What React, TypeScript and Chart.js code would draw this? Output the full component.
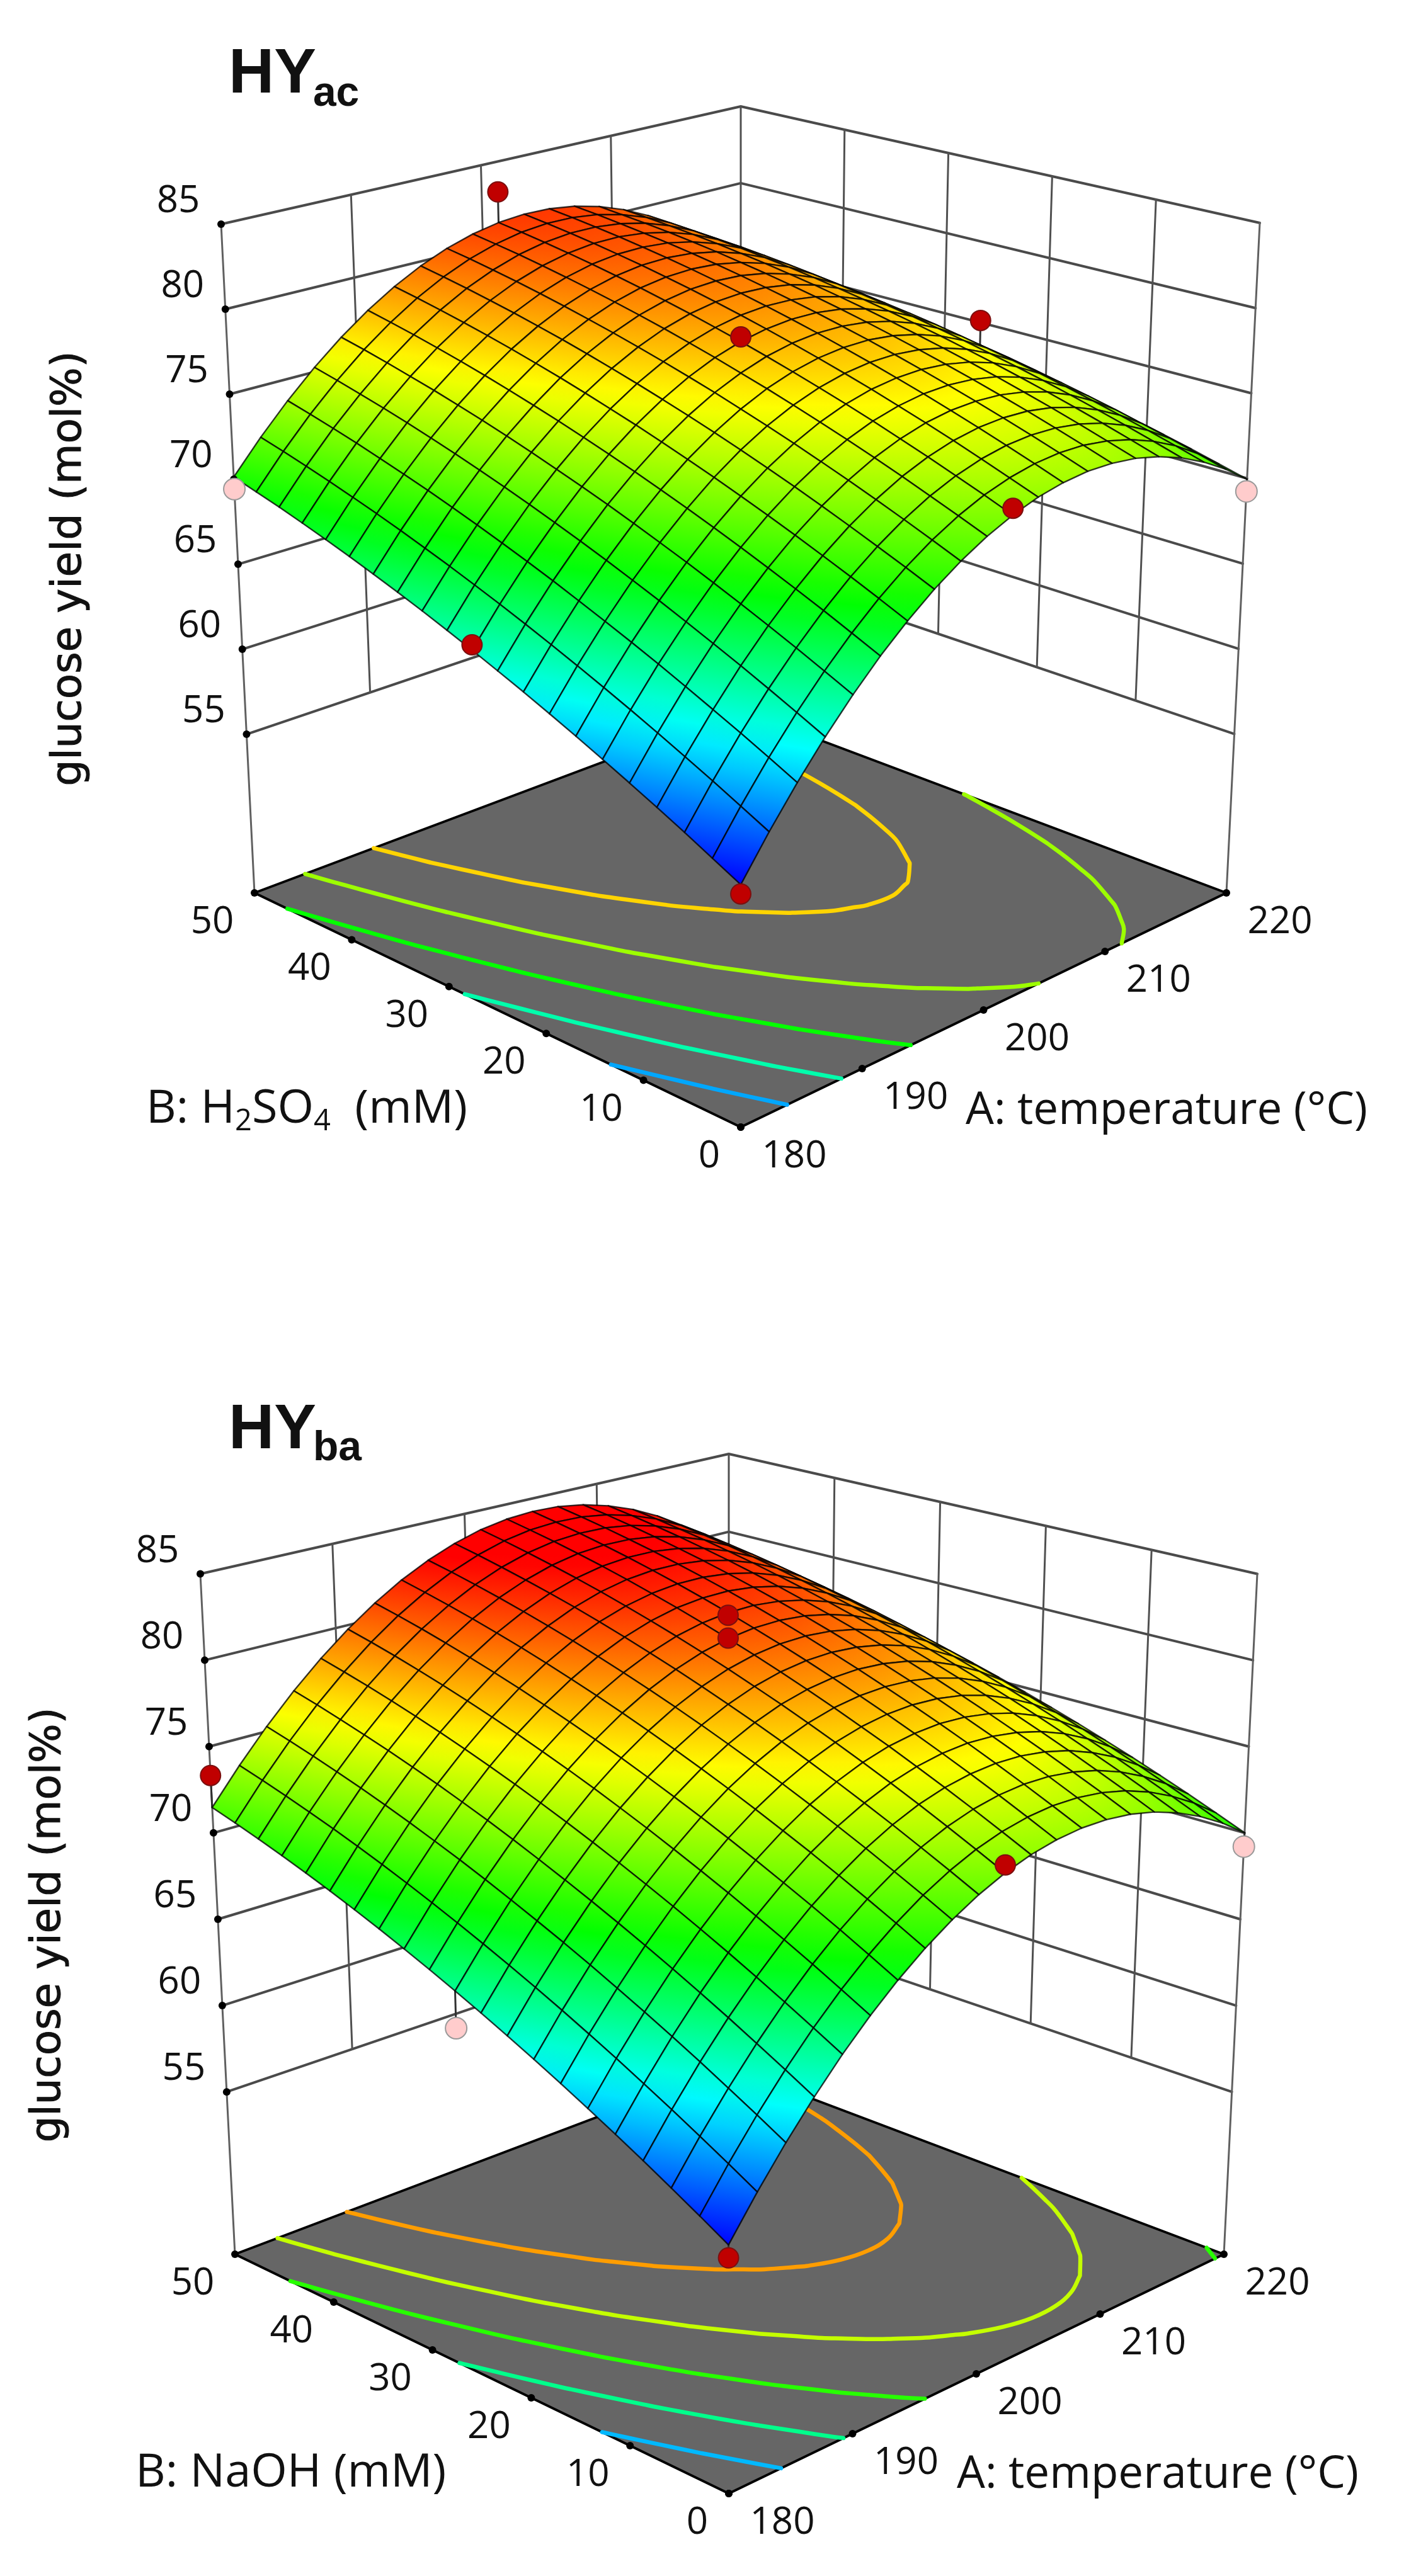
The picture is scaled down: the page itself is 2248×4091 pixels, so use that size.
import React, { useEffect, useRef } from "react";
import { Chart, registerables } from "chart.js";
Chart.register(...registerables);

const zTicks = [55, 60, 65, 70, 75, 80, 85];
const tempTicks = [180, 190, 200, 210, 220];
const concTicks = [0, 10, 20, 30, 40, 50];
const acLevels = [62.6, 66.3, 70.1, 74, 77.6];
const baLevels = [63, 67, 71, 75, 79];

// glucose yield (mol%), one row per 2.5 mM of acid, one column per 2 °C (180 to 220)
const acYield = [
  [59.00,61.20,63.22,65.08,66.76,68.28,69.62,70.80,71.80,72.64,73.30,73.80,74.12,74.28,74.26,74.08,73.72,73.20,72.50,71.64,70.60],
  [59.78,61.96,63.97,65.81,67.47,68.97,70.30,71.46,72.44,73.26,73.91,74.38,74.69,74.83,74.80,74.59,74.22,73.68,72.97,72.08,71.03],
  [60.55,62.71,64.70,66.52,68.17,69.65,70.96,72.09,73.06,73.86,74.49,74.95,75.24,75.36,75.31,75.09,74.70,74.14,73.41,72.51,71.44],
  [61.29,63.43,65.40,67.21,68.84,70.30,71.59,72.71,73.66,74.45,75.06,75.50,75.77,75.87,75.81,75.57,75.16,74.58,73.83,72.91,71.83],
  [62.01,64.14,66.09,67.87,69.49,70.93,72.21,73.31,74.24,75.01,75.60,76.03,76.28,76.36,76.28,76.02,75.60,75.00,74.23,73.30,72.19],
  [62.71,64.82,66.76,68.52,70.12,71.54,72.80,73.89,74.80,75.55,76.13,76.53,76.77,76.83,76.73,76.46,76.01,75.40,74.62,73.66,72.54],
  [63.39,65.48,67.40,69.15,70.73,72.13,73.37,74.44,75.34,76.07,76.63,77.02,77.23,77.28,77.16,76.87,76.41,75.78,74.98,74.00,72.86],
  [64.05,66.12,68.02,69.75,71.31,72.70,73.93,74.98,75.86,76.57,77.11,77.48,77.68,77.71,77.57,77.26,76.78,76.13,75.31,74.32,73.17],
  [64.69,66.74,68.62,70.34,71.88,73.25,74.46,75.49,76.35,77.05,77.57,77.92,78.10,78.12,77.96,77.63,77.14,76.47,75.63,74.63,73.45],
  [65.30,67.34,69.21,70.90,72.43,73.78,74.97,75.98,76.83,77.50,78.01,78.34,78.51,78.50,78.33,77.98,77.47,76.78,75.93,74.90,73.71],
  [65.90,67.92,69.77,71.44,72.95,74.29,75.46,76.45,77.28,77.94,78.43,78.74,78.89,78.87,78.68,78.31,77.78,77.08,76.21,75.16,73.95],
  [66.47,68.47,70.30,71.96,73.45,74.77,75.92,76.90,77.71,78.35,78.82,79.12,79.25,79.21,79.00,78.62,78.07,77.35,76.46,75.40,74.17],
  [67.03,69.01,70.82,72.46,73.94,75.24,76.37,77.33,78.12,78.75,79.20,79.48,79.59,79.53,79.31,78.91,78.34,77.60,76.69,75.62,74.37],
  [67.56,69.52,71.32,72.94,74.40,75.68,76.80,77.74,78.51,79.12,79.55,79.82,79.91,79.84,79.59,79.17,78.59,77.83,76.91,75.81,74.55],
  [68.07,70.02,71.80,73.40,74.84,76.10,77.20,78.13,78.88,79.47,79.89,80.13,80.21,80.12,79.85,79.42,78.82,78.04,77.10,75.99,74.70],
  [68.56,70.49,72.25,73.84,75.26,76.51,77.59,78.49,79.23,79.80,80.20,80.43,80.49,80.38,80.10,79.64,79.02,78.23,77.27,76.14,74.84],
  [69.03,70.94,72.68,74.26,75.66,76.89,77.95,78.84,79.56,80.11,80.49,80.70,80.74,80.62,80.32,79.85,79.21,78.40,77.42,76.27,74.95],
  [69.48,71.37,73.10,74.65,76.03,77.25,78.29,79.16,79.87,80.40,80.76,80.96,80.98,80.83,80.52,80.03,79.37,78.55,77.55,76.38,75.05],
  [69.91,71.78,73.49,75.02,76.39,77.59,78.61,79.47,80.15,80.67,81.01,81.19,81.19,81.03,80.70,80.19,79.52,78.67,77.66,76.47,75.12],
  [70.31,72.17,73.86,75.38,76.73,77.90,78.91,79.75,80.42,80.91,81.24,81.40,81.39,81.21,80.85,80.33,79.64,78.78,77.74,76.54,75.17],
  [70.70,72.54,74.21,75.71,77.04,78.20,79.19,80.01,80.66,81.14,81.45,81.59,81.56,81.36,80.99,80.45,79.74,78.86,77.81,76.59,75.20],
];
const baYield = [
  [59.09,61.25,63.24,65.06,66.72,68.21,69.53,70.69,71.68,72.51,73.17,73.66,73.98,74.14,74.13,73.96,73.62,73.11,72.44,71.60,70.59],
  [59.98,62.12,64.10,65.91,67.56,69.04,70.35,71.50,72.48,73.29,73.94,74.42,74.73,74.88,74.86,74.68,74.33,73.81,73.12,72.27,71.25],
  [60.84,62.97,64.94,66.74,68.38,69.85,71.15,72.28,73.25,74.05,74.69,75.16,75.46,75.60,75.57,75.37,75.01,74.48,73.78,72.92,71.89],
  [61.68,63.80,65.76,67.55,69.17,70.63,71.92,73.04,74.00,74.79,75.42,75.87,76.16,76.29,76.25,76.04,75.67,75.12,74.42,73.54,72.50],
  [62.49,64.60,66.55,68.33,69.94,71.38,72.66,73.78,74.72,75.50,76.12,76.56,76.84,76.96,76.90,76.68,76.30,75.75,75.03,74.14,73.09],
  [63.28,65.38,67.31,69.08,70.68,72.12,73.38,74.48,75.42,76.19,76.79,77.23,77.49,77.60,77.53,77.30,76.91,76.34,75.61,74.72,73.65],
  [64.04,66.13,68.05,69.81,71.40,72.82,74.08,75.17,76.09,76.85,77.44,77.86,78.12,78.21,78.14,77.90,77.49,76.91,76.17,75.26,74.19],
  [64.78,66.86,68.77,70.51,72.09,73.50,74.75,75.83,76.74,77.49,78.07,78.48,78.72,78.80,78.72,78.47,78.05,77.46,76.71,75.79,74.70],
  [65.49,67.56,69.46,71.19,72.76,74.16,75.39,76.46,77.36,78.10,78.67,79.07,79.30,79.37,79.27,79.01,78.58,77.98,77.22,76.29,75.19],
  [66.18,68.23,70.12,71.84,73.40,74.79,76.01,77.07,77.96,78.68,79.24,79.63,79.85,79.91,79.80,79.53,79.09,78.48,77.70,76.76,75.65],
  [66.84,68.88,70.76,72.47,74.02,75.40,76.61,77.65,78.53,79.24,79.79,80.17,80.38,80.43,80.31,80.02,79.57,78.95,78.16,77.21,76.09],
  [67.48,69.51,71.38,73.08,74.61,75.98,77.18,78.21,79.08,79.78,80.32,80.68,80.88,80.92,80.79,80.49,80.03,79.39,78.60,77.63,76.50],
  [68.09,70.11,71.97,73.66,75.18,76.53,77.72,78.75,79.60,80.29,80.82,81.17,81.36,81.39,81.24,80.93,80.46,79.82,79.01,78.03,76.89],
  [68.68,70.69,72.53,74.21,75.72,77.07,78.24,79.25,80.10,80.78,81.29,81.64,81.81,81.83,81.67,81.35,80.87,80.21,79.39,78.41,77.25],
  [69.24,71.24,73.07,74.74,76.24,77.57,78.74,79.74,80.57,81.24,81.74,82.07,82.24,82.24,82.08,81.75,81.25,80.58,79.75,78.75,77.59],
  [69.78,71.77,73.59,75.24,76.73,78.05,79.21,80.20,81.02,81.68,82.17,82.49,82.64,82.63,82.46,82.12,81.61,80.93,80.09,79.08,77.90],
  [70.29,72.27,74.08,75.72,77.20,78.51,79.65,80.63,81.44,82.09,82.57,82.88,83.02,83.00,82.81,82.46,81.94,81.25,80.40,79.38,78.19],
  [70.78,72.74,74.54,76.17,77.64,78.94,80.07,81.04,81.84,82.47,82.94,83.24,83.37,83.34,83.14,82.78,82.25,81.55,80.68,79.65,78.45],
  [71.24,73.19,74.98,76.60,78.06,79.35,80.47,81.42,82.21,82.83,83.29,83.58,83.70,83.66,83.45,83.07,82.53,81.82,80.94,79.90,78.69],
  [71.68,73.62,75.40,77.01,78.45,79.73,80.84,81.78,82.56,83.17,83.62,83.89,84.00,83.95,83.73,83.34,82.79,82.06,81.18,80.12,78.90],
  [72.09,74.02,75.79,77.39,78.82,80.08,81.18,82.12,82.88,83.48,83.92,84.18,84.28,84.22,83.98,83.58,83.02,82.29,81.39,80.32,79.09],
];
// design points: temperature, concentration, yield, 1 = above the surface (red), 0 = below (pink)
const acPoints = [
  [180, 0, 58.5, 1], [180, 25, 66.2, 1], [180, 50, 70.0, 0], [200, 0, 73.67, 1],
  [200, 25, 78.7, 1], [200, 50, 83.25, 1], [220, 0, 69.9, 0], [220, 25, 75.65, 1],
];
const baPoints = [
  [180, 0, 58.4, 1], [180, 25, 64.8, 0], [180, 50, 73.9, 1], [200, 0, 73.6, 1],
  [200, 25, 81.5, 1], [200, 25, 82.75, 1], [220, 0, 69.8, 0],
];

type Pt = [number, number];
const lerp = (p: Pt, q: Pt, t: number): Pt => [p[0] + (q[0] - p[0]) * t, p[1] + (q[1] - p[1]) * t];
const det = (a: Pt, b: Pt) => a[0] * b[1] - a[1] * b[0];

const stops: [number, number[]][] = [
  [59, [0, 0, 255]], [64.5, [0, 255, 255]], [70, [0, 255, 0]], [76.5, [255, 255, 0]], [83, [255, 0, 0]],
];
function colorOf(z: number) {
  if (z <= stops[0][0]) return `rgb(${stops[0][1].join(",")})`;
  for (let k = 1; k < stops.length; k++) {
    if (z <= stops[k][0]) {
      const t = (z - stops[k - 1][0]) / (stops[k][0] - stops[k - 1][0]);
      const c = stops[k - 1][1].map((v, n) => Math.round(v + (stops[k][1][n] - v) * t));
      return `rgb(${c.join(",")})`;
    }
  }
  return "rgb(255,0,0)";
}

function projector(c: any) {
  const { F0, R0, L0, B0, L1, R1 } = c;
  const S: Pt = [F0[0] - R0[0] + B0[0] - L0[0], F0[1] - R0[1] + B0[1] - L0[1]];
  const d1: Pt = [R0[0] - B0[0], R0[1] - B0[1]];
  const d2: Pt = [L0[0] - B0[0], L0[1] - B0[1]];
  const g = det(S, d2) / det(d1, d2), h = det(d1, S) / det(d1, d2);
  const s = ((1 + g) * R0[0] - (1 + h) * L0[0] - R1[0] * (g - h)) / (R1[0] - L1[0]);
  const i = s - 1 - h;
  const Wx = L1[0] * s - (1 + h) * L0[0] + F0[0];
  const Wy = (L1[1] * s - (1 + h) * L0[1] + F0[1] + R1[1] * (s + g - h) - (1 + g) * R0[1] + F0[1]) / 2;
  return (u: number, v: number, w: number) => {
    const D = 1 + g * u + h * v + i * w;
    return {
      x: (F0[0] + u * ((1 + g) * R0[0] - F0[0]) + v * ((1 + h) * L0[0] - F0[0]) + w * (Wx - F0[0])) / D,
      y: (F0[1] + u * ((1 + g) * R0[1] - F0[1]) + v * ((1 + h) * L0[1] - F0[1]) + w * (Wy - F0[1])) / D,
    };
  };
}

const panels = [
  {
    top: 0, bottom: 2045,
    F0: [1176, 1790] as Pt, R0: [1947, 1418] as Pt, L0: [404, 1418] as Pt, B0: [1176, 1128] as Pt,
    L1: [351, 356] as Pt, R1: [2000, 354] as Pt, B1: [1176, 169] as Pt, zFloor: 45.67,
    table: acYield, levels: acLevels, points: acPoints,
    title: ["HY", "ac"], titleX: 363, titleY: 147, subY: 168,
    yTitleX: 111, yTitleY: 903, aX: 1533, aY: 1765, bX: 232, bY: 1762,
    bParts: [["B: H", 0], ["2", 1], ["SO", 0], ["4", 1], ["  (mM)", 0]],
  },
  {
    top: 2045, bottom: 4091,
    F0: [1157, 3960] as Pt, R0: [1943, 3580] as Pt, L0: [373, 3580] as Pt, B0: [1157, 3283] as Pt,
    L1: [318, 2499.5] as Pt, R1: [1996, 2499.5] as Pt, B1: [1157, 2309] as Pt, zFloor: 45.6,
    table: baYield, levels: baLevels, points: baPoints,
    title: ["HY", "ba"], titleX: 363, titleY: 2300, subY: 2319,
    yTitleX: 78, yTitleY: 3057, aX: 1519, aY: 3931, bX: 215, bY: 3928,
    bParts: [["B: NaOH (mM)", 0]],
  },
];

// iso-lines of the table, walked from cell to cell into continuous polylines
function contourLines(table: number[][], level: number, P: (u: number, v: number, w: number) => any) {
  const n = table.length - 1;
  const pos = new Map<string, any>();
  const adj = new Map<string, string[]>();
  const link = (a: string, b: string) => {
    adj.set(a, [...(adj.get(a) || []), b]);
    adj.set(b, [...(adj.get(b) || []), a]);
  };
  for (let j = 0; j < n; j++) for (let i = 0; i < n; i++) {
    const c: [number, number, number][] = [[i, j, table[j][i]], [i + 1, j, table[j][i + 1]], [i + 1, j + 1, table[j + 1][i + 1]], [i, j + 1, table[j + 1][i]]];
    const hits: string[] = [];
    for (let k = 0; k < 4; k++) {
      const p = c[k], q = c[(k + 1) % 4];
      if (p[2] >= level !== q[2] >= level) {
        const t = (level - p[2]) / (q[2] - p[2]);
        const key = [p[0], p[1], q[0], q[1]].sort((x, y) => x - y).join("_") + (p[0] === q[0] ? "v" + p[0] : "h" + p[1]);
        pos.set(key, P((p[0] + (q[0] - p[0]) * t) / n, (p[1] + (q[1] - p[1]) * t) / n, 0));
        hits.push(key);
      }
    }
    if (hits.length >= 2) link(hits[0], hits[1]);
  }
  const seen = new Set<string>();
  const lines: any[][] = [];
  const starts = [...adj.keys()].sort((a, b) => adj.get(a)!.length - adj.get(b)!.length);
  for (const st of starts) {
    if (seen.has(st)) continue;
    const path = [st];
    seen.add(st);
    let cur = st;
    for (;;) {
      const next = adj.get(cur)!.find((k) => !seen.has(k));
      if (!next) break;
      seen.add(next);
      path.push(next);
      cur = next;
    }
    lines.push(path.map((k) => pos.get(k)));
  }
  return lines;
}

const line = (data: any[], color: string, width: number, extra: any = {}) => ({
  data, showLine: true, borderColor: color, borderWidth: width, pointRadius: 0, fill: false, borderCapStyle: "round", borderJoinStyle: "round", ...extra,
});

function buildDatasets(p: any, ctx: CanvasRenderingContext2D) {
  const P = projector(p);
  const zTop = 85, zf = p.zFloor;
  const W = (z: number) => (z - zf) / (zTop - zf);
  const eL = (z: number) => lerp(p.L1, p.L0, (zTop - z) / (zTop - zf));
  const eR = (z: number) => lerp(p.R1, p.R0, (zTop - z) / (zTop - zf));
  const eB = (z: number) => lerp(p.B1, p.B0, (zTop - z) / (zTop - zf));
  const xy = (q: Pt) => ({ x: q[0], y: q[1] });
  const ds: any[] = [];
  for (const z of zTicks) ds.push(line([xy(eL(z)), xy(eB(z)), xy(eR(z))], "#4a4a4a", 4));
  for (const A of tempTicks.slice(1, -1)) {
    const t = (A - 180) / 40;
    ds.push(line([xy(lerp(eL(85), eB(85), t)), xy(lerp(eL(55), eB(55), t))], "#505050", 3));
  }
  for (const B of concTicks.slice(1, -1)) {
    const t = B / 50;
    ds.push(line([xy(lerp(eR(85), eB(85), t)), xy(lerp(eR(55), eB(55), t))], "#505050", 3));
  }
  ds.push(line([xy(eB(85)), xy(eB(55))], "#505050", 3));
  ds.push(line([xy(p.L1), xy(p.L0)], "#606060", 3));
  ds.push(line([xy(p.R1), xy(p.R0)], "#606060", 3));
  ds.push(line([xy(p.F0), xy(p.R0), xy(p.B0), xy(p.L0), xy(p.F0)], "#000", 4, { fill: "shape", backgroundColor: "#666666" }));
  for (const level of p.levels)
    for (const pts of contourLines(p.table, level, P))
      ds.push(line(pts, colorOf(level), 6.5, { tension: 0.4 }));
  const n = p.table.length - 1;
  for (const [A, B, y] of p.points) {
    const u = (A - 180) / 40, v = B / 50;
    const zs = p.table[Math.round(v * n)][Math.round(u * n)];
    ds.push(line([P(u, v, W(y)), P(u, v, W(zs))], "#303030", 3));
  }
  const cells: [number, number][] = [];
  for (let j = 0; j < n; j++) for (let i = 0; i < n; i++) cells.push([i, j]);
  cells.sort((a, b) => b[0] + b[1] - a[0] - a[1]);
  for (const [i, j] of cells) {
    const idx = [[i, j], [i + 1, j], [i + 1, j + 1], [i, j + 1]];
    const zs = idx.map(([a, b]) => p.table[b][a]);
    const pts = idx.map(([a, b], k) => P(a / n, b / n, W(zs[k])));
    const ax = pts[1].x - pts[0].x, ay = pts[1].y - pts[0].y, bx = pts[3].x - pts[0].x, by = pts[3].y - pts[0].y;
    const dz1 = (zs[1] + zs[2] - zs[0] - zs[3]) / 2, dz2 = (zs[3] + zs[2] - zs[0] - zs[1]) / 2;
    const dt = ax * by - ay * bx || 1;
    const gx = (dz1 * by - dz2 * ay) / dt, gy = (dz2 * ax - dz1 * bx) / dt;
    const mag = gx * gx + gy * gy || 1;
    const lo = Math.min(...zs), hi = Math.max(...zs);
    const s0 = pts[zs.indexOf(lo)];
    const s1 = { x: s0.x + (gx * (hi - lo)) / mag, y: s0.y + (gy * (hi - lo)) / mag };
    const gr = ctx.createLinearGradient(s0.x, s0.y - p.top, s1.x, s1.y - p.top);
    gr.addColorStop(0, colorOf(lo));
    gr.addColorStop(0.5, colorOf((lo + hi) / 2));
    gr.addColorStop(1, colorOf(hi));
    ds.push(line([...pts, pts[0]], "rgba(0,0,0,0.78)", 2.4, { fill: "shape", backgroundColor: gr }));
  }
  const dots = [
    ...zTicks.map((z) => xy(eL(z))),
    ...tempTicks.map((A) => xy(lerp(p.F0, p.R0, (A - 180) / 40))),
    ...concTicks.map((B) => xy(lerp(p.F0, p.L0, B / 50))),
  ];
  ds.push({ data: dots, showLine: false, pointRadius: 6, pointBackgroundColor: "#000", pointBorderWidth: 0 });
  const reds = p.points.filter((q: number[]) => q[3]).map(([A, B, y]: number[]) => P((A - 180) / 40, B / 50, W(y)));
  const pinks = p.points.filter((q: number[]) => !q[3]).map(([A, B, y]: number[]) => P((A - 180) / 40, B / 50, W(y)));
  ds.push({ data: reds, showLine: false, pointRadius: 16, pointBackgroundColor: "#C00000", pointBorderColor: "#7a1010", pointBorderWidth: 2 });
  ds.push({ data: pinks, showLine: false, pointRadius: 17, pointBackgroundColor: "#FFCCCC", pointBorderColor: "#999999", pointBorderWidth: 2 });
  return ds.reverse();
}

const TICK_FONT = '60px "Open Sans"';
const TITLE_FONT = '71px "Open Sans"';
const B_FONT = '74px "Open Sans"';
const SUB_FONT = '47px "Open Sans"';

function textPlugin(p: any) {
  return {
    id: "panelText",
    afterDraw(chart: any) {
      const ctx: CanvasRenderingContext2D = chart.ctx;
      const sx = chart.scales.x, sy = chart.scales.y;
      const X = (v: number) => sx.getPixelForValue(v), Y = (v: number) => sy.getPixelForValue(v);
      const zf = p.zFloor;
      ctx.save();
      ctx.fillStyle = "#111";
      ctx.textBaseline = "middle";
      ctx.textAlign = "center";
      ctx.font = TICK_FONT;
      for (const z of zTicks) {
        const q = lerp(p.L1, p.L0, (85 - z) / (85 - zf));
        ctx.fillText(String(z), X(q[0] - 68), Y(q[1] - 36));
      }
      for (const A of tempTicks) {
        const q = lerp(p.F0, p.R0, (A - 180) / 40);
        ctx.fillText(String(A), X(q[0] + 85), Y(q[1] + 47));
      }
      for (const B of concTicks) {
        const q = lerp(p.F0, p.L0, B / 50);
        ctx.fillText(String(B), X(q[0] - (B === 0 ? 50 : 67)), Y(q[1] + 47));
      }
      ctx.textAlign = "left";
      ctx.font = TITLE_FONT;
      ctx.fillText("A: temperature (°C)", X(p.aX), Y(p.aY));
      let bx = X(p.bX);
      for (const [t, sub] of p.bParts) {
        ctx.font = sub ? SUB_FONT : B_FONT;
        ctx.fillText(t, bx, Y(p.bY + (sub ? 20 : 0)));
        bx += ctx.measureText(t).width;
      }
      ctx.textBaseline = "alphabetic";
      ctx.font = 'bold 100px "Liberation Sans"';
      ctx.fillText(p.title[0], X(p.titleX), Y(p.titleY));
      const w = ctx.measureText(p.title[0]).width;
      ctx.font = 'bold 66px "Liberation Sans"';
      ctx.fillText(p.title[1], X(p.titleX) + w - 5, Y(p.subY));
      ctx.translate(X(p.yTitleX), Y(p.yTitleY));
      ctx.rotate(-Math.PI / 2);
      ctx.textAlign = "center";
      ctx.textBaseline = "middle";
      ctx.font = '66px "DejaVu Sans"';
      ctx.lineWidth = 1;
      ctx.strokeStyle = "#111";
      ctx.fillText("glucose yield (mol%)", 0, 0);
      ctx.strokeText("glucose yield (mol%)", 0, 0);
      ctx.restore();
    },
  };
}

function Panel({ p }: { p: any }) {
  const ref = useRef<HTMLCanvasElement>(null);
  useEffect(() => {
    const canvas = ref.current!;
    const ctx = canvas.getContext("2d")!;
    const chart = new Chart(ctx, {
      type: "scatter",
      data: { datasets: buildDatasets(p, ctx) },
      options: {
        responsive: false, animation: false, devicePixelRatio: 1, events: [],
        layout: { padding: 0, autoPadding: false },
        plugins: { legend: { display: false }, tooltip: { enabled: false }, title: { display: false } },
        scales: {
          x: { type: "linear", min: 0, max: 2248, display: false },
          y: { type: "linear", min: p.top, max: p.bottom, reverse: true, display: false },
        },
      } as any,
      plugins: [textPlugin(p)],
    });
    return () => chart.destroy();
  }, [p]);
  return (
    <canvas ref={ref} width={2248} height={p.bottom - p.top}
      style={{ position: "absolute", left: 0, top: p.top, width: 2248, height: p.bottom - p.top, display: "block" }} />
  );
}

export default function App() {
  return (
    <div style={{ position: "absolute", left: 0, top: 0, width: 2248, height: 4091, background: "#fff" }}>
      {panels.map((p, k) => <Panel key={k} p={p} />)}
    </div>
  );
}
